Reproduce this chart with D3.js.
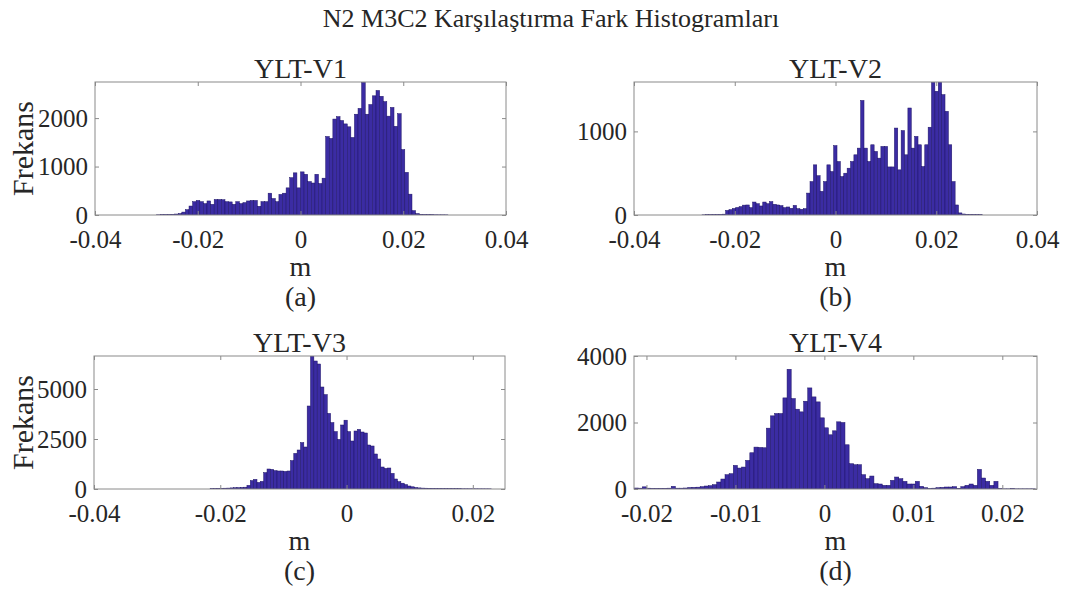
<!DOCTYPE html>
<html>
<head>
<meta charset="utf-8">
<script src="https://cdn.jsdelivr.net/npm/d3@7"></script>
<style>
  body { margin: 0; background: #fff; }
  text { font-family: "Liberation Serif", "Times New Roman", serif; fill: #262626; }
</style>
</head>
<body>
<svg id="chart" width="1074" height="594"></svg>
<script>
/* Data
   ========================================================================== */
var mainTitle = "N2 M3C2 Karşılaştırma Fark Histogramları";
var panelTitles = ["YLT-V1", "YLT-V2", "YLT-V3", "YLT-V4"];
var panelLetters = ["(a)", "(b)", "(c)", "(d)"];
var xLabel = "m";
var yLabel = "Frekans";

// first bin edge and bin width (m) for each histogram
var binStarts = [-0.0280, -0.0265, -0.021605, -0.0214];
var binWidths = [0.0007, 0.00067, 0.00053, 0.000465];

// bin counts
var countsV1 = [4, 6, 8, 10, 14, 20, 30, 60, 110, 185, 275, 300, 275, 235, 290, 220,
  320, 320, 315, 275, 270, 220, 275, 235, 255, 290, 300, 300, 180, 275, 275, 450,
  340, 275, 425, 450, 560, 770, 870, 560, 890, 840, 690, 660, 840, 650, 760, 1620,
  1580, 1980, 2030, 1950, 1880, 1820, 1600, 2080, 2200, 2740, 2080, 2280, 2460, 2570,
  2450, 2340, 2040, 2220, 1830, 2090, 1350, 880, 430, 90, 30, 15, 10, 8, 6, 5, 4, 4, 3];
var countsV2 = [2, 3, 3, 4, 5, 6, 10, 55, 64, 78, 90, 100, 118, 120, 88, 155, 135, 108,
  155, 135, 160, 128, 120, 112, 88, 96, 80, 115, 76, 68, 76,
  262, 400, 600, 470, 283, 400, 600, 520, 830, 640, 460, 500, 560, 640, 720, 800, 1370,
  800, 640, 840, 760, 680, 820, 820, 575, 575, 1040, 540, 1010, 720, 1280, 800, 940,
  840, 580, 840, 1050, 1590, 1480, 1590, 1440, 1240, 840, 400, 120, 25,
  12, 8, 6, 5, 4, 3];
var countsV3 = [15, 20, 30, 35, 40, 45, 55, 65, 70, 80, 90, 180, 420, 480, 330, 380, 820,
  1000, 980, 920, 900, 900, 880, 900, 1420, 1780, 1950, 2320, 2100, 4150,
  6650, 6400, 6250, 5100, 4720, 3780, 3320, 2870, 2480, 3200, 3440, 2870, 2400, 2900,
  2980, 2850, 2800, 2200, 2150, 1750, 1500, 1100, 1030, 1050, 780, 500, 370, 290, 220,
  150, 110, 75, 55, 45, 40, 35, 30, 25, 22, 20, 18, 16, 15, 14, 13, 12, 12, 11, 10, 10,
  9, 9, 8, 8];
var countsV4 = [30, 25, 65, 25, 20, 20, 20, 20, 25, 80, 25, 25, 30, 45, 50, 55, 70, 90,
  100, 130, 210, 300, 430, 460, 710, 630, 660, 860, 1090, 1260, 1250, 1240, 1830, 2200,
  2270, 2270, 2740,
  3600, 2720, 2400, 2320, 2640, 3040, 2770, 2620, 2140, 1840, 1630, 1750, 2020, 2000,
  1330, 760, 730, 730, 430, 310, 390, 160, 150, 110, 110, 260, 360, 310, 230, 150, 150,
  230, 80, 40, 10, 25, 40, 50, 60, 60, 70, 20, 70, 110, 150, 110, 590, 330, 230, 110,
  230, 10, 5, 5, 15, 5, 5, 5, 5, 5];

// axis limits and ticks
var xDomains = [[-0.04, 0.04], [-0.04, 0.04], [-0.04, 0.0251], [-0.0214, 0.0239]];
var yTops = [2745, 1591, 6650, 4000];
var xTicks = [[-0.04, -0.02, 0, 0.02, 0.04], [-0.04, -0.02, 0, 0.02, 0.04],
  [-0.04, -0.02, 0, 0.02], [-0.02, -0.01, 0, 0.01, 0.02]];
var yTicks = [[0, 1000, 2000], [0, 1000], [0, 2500, 5000], [0, 2000, 4000]];

var allCounts = [countsV1, countsV2, countsV3, countsV4];

/* Layout
   ========================================================================== */
var boxes = [
  { left: 95,  right: 506,  top: 82,  bottom: 215 },
  { left: 634, right: 1037, top: 82,  bottom: 215 },
  { left: 94,  right: 505,  top: 356, bottom: 489 },
  { left: 634, right: 1037, top: 356, bottom: 489 }
];
var tickFont = "25px", labelFont = "28px";
var barFill = "#3b2ca3", barEdge = "#1d1266", boxColor = "#8a8a8a";

var svg = d3.select("#chart");

svg.append("text")
    .attr("x", 551).attr("y", 27)
    .attr("text-anchor", "middle")
    .style("font-size", "26px")
    .text(mainTitle);

function fmt(d) { return d === 0 ? "0" : String(d); }

boxes.forEach(function(b, p) {
    var x = d3.scaleLinear().domain(xDomains[p]).range([b.left, b.right]);
    var y = d3.scaleLinear().domain([0, yTops[p]]).range([b.bottom, b.top]);

    var bins = allCounts[p].map(function(c, i) {
        return { x0: binStarts[p] + i * binWidths[p], x1: binStarts[p] + (i + 1) * binWidths[p], n: c };
    });

    var g = svg.append("g");

    // clip bars to the axes box
    svg.append("clipPath").attr("id", "clip" + p)
        .append("rect")
        .attr("x", b.left).attr("y", b.top)
        .attr("width", b.right - b.left).attr("height", b.bottom - b.top);

    g.append("g").attr("clip-path", "url(#clip" + p + ")")
        .selectAll("rect")
        .data(bins)
        .enter().append("rect")
        .attr("x", function(d) { return x(d.x0); })
        .attr("width", function(d) { return x(d.x1) - x(d.x0); })
        .attr("y", function(d) { return y(d.n); })
        .attr("height", function(d) { return y(0) - y(d.n); })
        .attr("fill", barFill)
        .attr("stroke", barEdge)
        .attr("stroke-width", 0.5);

    // bottom and left axes with labels, top and right only ticks
    var bottomAxis = g.append("g")
        .attr("transform", "translate(0," + b.bottom + ")")
        .call(d3.axisBottom(x).tickValues(xTicks[p]).tickSizeInner(-4).tickSizeOuter(0)
            .tickPadding(15).tickFormat(fmt));
    var leftAxis = g.append("g")
        .attr("transform", "translate(" + b.left + ",0)")
        .call(d3.axisLeft(y).tickValues(yTicks[p]).tickSizeInner(-4).tickSizeOuter(0)
            .tickPadding(7).tickFormat(d3.format("d")));
    var topAxis = g.append("g")
        .attr("transform", "translate(0," + b.top + ")")
        .call(d3.axisTop(x).tickValues(xTicks[p]).tickSizeInner(-4).tickSizeOuter(0).tickFormat(""));
    var rightAxis = g.append("g")
        .attr("transform", "translate(" + b.right + ",0)")
        .call(d3.axisRight(y).tickValues(yTicks[p]).tickSizeInner(-4).tickSizeOuter(0).tickFormat(""));

    [bottomAxis, leftAxis, topAxis, rightAxis].forEach(function(a) {
        a.select(".domain").remove();
        a.selectAll(".tick line").attr("stroke", boxColor);
        a.selectAll("text").style("font-size", tickFont).attr("fill", "#262626")
            .style("font-family", "'Liberation Serif', serif");
    });

    // axes box
    g.append("rect")
        .attr("x", b.left).attr("y", b.top)
        .attr("width", b.right - b.left).attr("height", b.bottom - b.top)
        .attr("fill", "none").attr("stroke", boxColor).attr("stroke-width", 1);

    var cx = (b.left + b.right) / 2;

    g.append("text")
        .attr("x", cx).attr("y", b.top - 4)
        .attr("text-anchor", "middle")
        .style("font-size", labelFont)
        .text(panelTitles[p]);

    g.append("text")
        .attr("x", cx).attr("y", b.bottom + 61)
        .attr("text-anchor", "middle")
        .style("font-size", labelFont)
        .text(xLabel);

    g.append("text")
        .attr("x", cx).attr("y", b.bottom + 91)
        .attr("text-anchor", "middle")
        .style("font-size", labelFont)
        .text(panelLetters[p]);

    // only the left column has the y label
    if (p % 2 === 0) {
        g.append("text")
            .attr("transform", "translate(33," + (b.top + b.bottom) / 2 + ") rotate(-90)")
            .attr("text-anchor", "middle")
            .style("font-size", "30px")
            .text(yLabel);
    }
});
</script>
</body>
</html>
